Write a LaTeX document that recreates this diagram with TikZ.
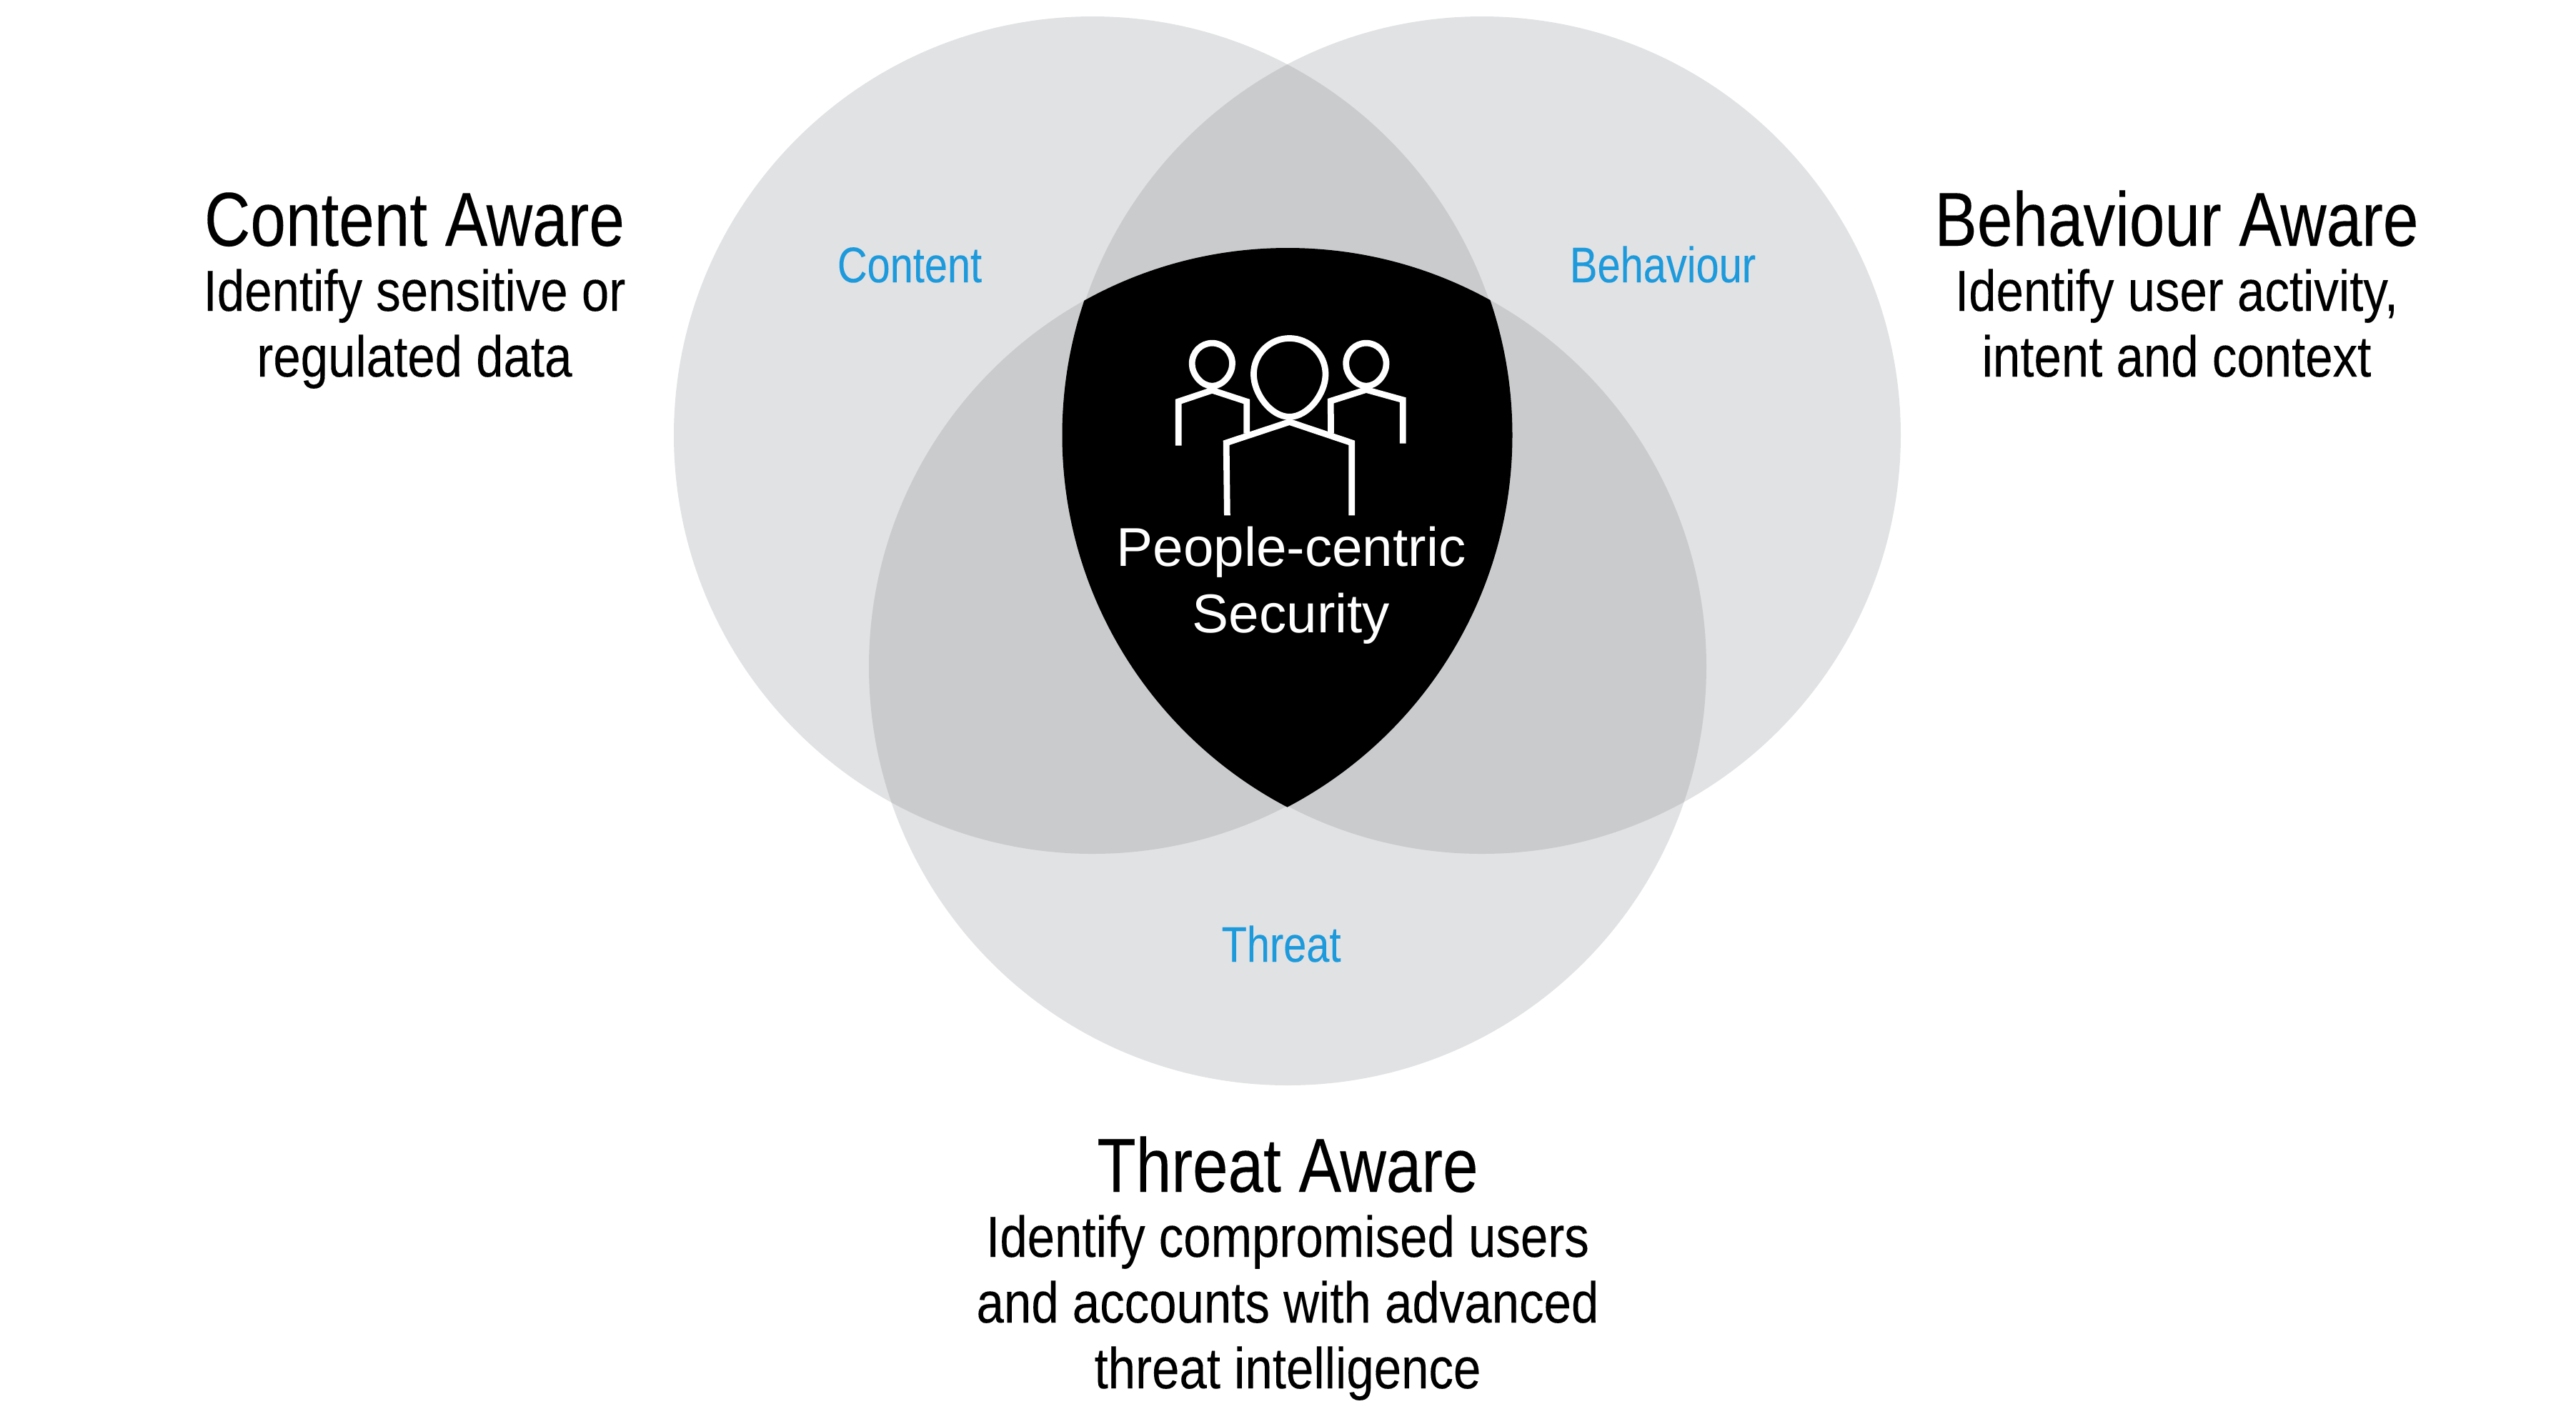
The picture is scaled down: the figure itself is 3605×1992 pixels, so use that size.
\documentclass[tikz,border=0pt]{standalone}
\usepackage{fontspec}
\setmainfont{Liberation Sans}
\newfontfamily\titlefont[FakeStretch=0.833,FakeBold=0.15]{Liberation Sans}
\newfontfamily\bodyfont[FakeStretch=0.852,FakeBold=0.12]{Liberation Sans}
\newfontfamily\bluefont[FakeStretch=0.825,FakeBold=0.08]{Liberation Sans}
\definecolor{vennlight}{HTML}{E1E2E4}
\definecolor{vennmid}{HTML}{CACBCD}
\definecolor{labelblue}{HTML}{1D9ADC}
\tikzset{
  titletext/.style={anchor=base,align=center,inner sep=0pt,font=\titlefont\fontsize{21.4}{24}\selectfont},
  bodytext/.style={anchor=base,align=center,inner sep=0pt,font=\bodyfont\fontsize{16.2}{18.4}\selectfont},
  bluetext/.style={anchor=base,inner sep=0pt,text=labelblue,font=\bluefont\fontsize{14}{16}\selectfont},
  shieldtext/.style={anchor=base,align=center,inner sep=0pt,text=white,font=\fontsize{15.3}{18.5}\selectfont},
  iconline/.style={draw=white,line width=1.75pt,miter limit=10}
}
\newcommand{\circA}{(1529,609) circle[radius=586]}
\newcommand{\circB}{(2074,609) circle[radius=586]}
\newcommand{\circC}{(1802,933) circle[radius=586]}
\begin{document}
\begin{tikzpicture}[x=0.2pt,y=-0.2pt]
\useasboundingbox (0,0) rectangle (3605,1992);
\fill[vennlight] \circA;
\fill[vennlight] \circB;
\fill[vennlight] \circC;
\begin{scope}\clip \circA; \fill[vennmid] \circB; \fill[vennmid] \circC; \end{scope}
\begin{scope}\clip \circB; \fill[vennmid] \circC; \end{scope}
\begin{scope}\clip (1529,609) circle[radius=587.5]; \clip (2074,609) circle[radius=587.5]; \fill[black] \circC; \end{scope}
% icon
\begin{scope}[shift={(1480,320)},x=0.08418pt,y=-0.07909pt]
  \draw[iconline] (514,557) .. controls (478,557) and (447,515) .. (447,478) .. controls (447,437) and (477,405) .. (514,405) .. controls (551,405) and (581,437) .. (581,478) .. controls (581,515) and (550,557) .. (514,557) -- cycle;
  \draw[iconline] (1026,557) .. controls (990,557) and (959,515) .. (959,478) .. controls (959,437) and (989,405) .. (1026,405) .. controls (1063,405) and (1093,437) .. (1093,478) .. controls (1093,515) and (1062,557) .. (1026,557) -- cycle;
  \draw[iconline] (771,666) .. controls (710,666) and (652,585) .. (652,515) .. controls (652,445) and (705,388) .. (771,388) .. controls (837,388) and (891,445) .. (891,515) .. controls (891,585) and (832,666) .. (771,666) -- cycle;
  \draw[iconline] (402,768) -- (402,612) -- (514,572) -- (629,612) -- (629,725);
  \draw[iconline] (909,725) -- (908,610) -- (1026,570) -- (1148,606) -- (1148,760);
  \draw[iconline] (564,1015) -- (561,758) -- (771,684) -- (978,758) -- (978,1015);
\end{scope}
\node[shieldtext] (shield) at (1807,885) {People-centric\\Security};
\node[bluetext] (lblcontent) at (1273,395) {Content};
\node[bluetext] (lblbehaviour) at (2327,395) {Behaviour};
\node[bluetext] (lblthreat) at (1793,1346) {Threat};
\node[titletext] (tcontent) at (580,344) {Content Aware};
\node[bodytext] (bcontent) at (580,527) {Identify sensitive or\\regulated data};
\node[titletext] (tbehaviour) at (3046,344) {Behaviour Aware};
\node[bodytext] (bbehaviour) at (3046,527) {Identify user activity,\\intent and context};
\node[titletext] (tthreat) at (1802,1668) {Threat Aware};
\node[bodytext] (bthreat) at (1802,1943) {Identify compromised users\\and accounts with advanced\\threat intelligence};
\end{tikzpicture}
\end{document}
